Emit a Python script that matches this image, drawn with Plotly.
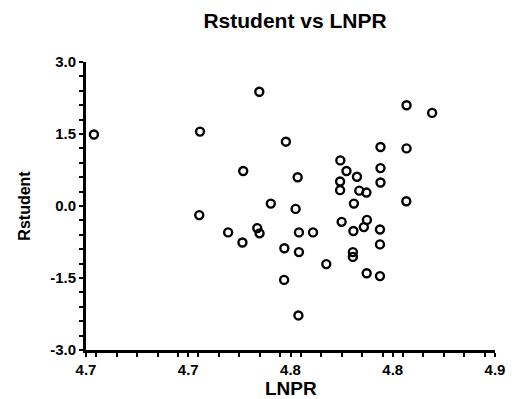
import plotly.graph_objects as go

lnpr = [4.7031, 4.7446, 4.7678, 4.7782, 4.7615, 4.7828, 4.7995, 4.8019, 4.8060, 4.7994,
        4.7994, 4.8069, 4.8097, 4.7723, 4.7820, 4.8048, 4.8254, 4.8354, 4.8152, 4.8254,
        4.8152, 4.8152, 4.8253, 4.7443, 4.7556, 4.7612, 4.7670, 4.7679, 4.7833, 4.7888,
        4.8000, 4.8046, 4.8087, 4.8099, 4.8150, 4.7776, 4.7833, 4.8044, 4.8044, 4.7940,
        4.8150, 4.8098, 4.8150, 4.7775, 4.7831]
rstudent = [1.49, 1.55, 2.38, 1.34, 0.73, 0.60, 0.95, 0.73, 0.61, 0.51,
            0.33, 0.32, 0.28, 0.05, -0.06, 0.05, 2.10, 1.94, 1.23, 1.20,
            0.79, 0.49, 0.10, -0.19, -0.55, -0.76, -0.46, -0.57, -0.55, -0.55,
            -0.33, -0.52, -0.44, -0.29, -0.49, -0.88, -0.96, -0.96, -1.06, -1.21,
            -0.80, -1.40, -1.46, -1.54, -2.28]

x_tickvals = [4.70, 4.74, 4.78, 4.82, 4.86]
x_ticktext = ["4.7", "4.7", "4.8", "4.8", "4.9"]
y_tickvals = [-3.0, -1.5, 0.0, 1.5, 3.0]
y_ticktext = ["-3.0", "-1.5", "0.0", "1.5", "3.0"]

FONT = "Liberation Sans"

fig = go.Figure()
fig.add_trace(go.Scatter(
    x=lnpr, y=rstudent, mode="markers", cliponaxis=False,
    marker=dict(symbol="circle-open", size=8, color="black", line=dict(width=2.4, color="black")),
    showlegend=False,
))

fig.update_xaxes(
    range=[4.70, 4.86], tickvals=x_tickvals, ticktext=["<b>%s</b>" % t for t in x_ticktext],
    showgrid=False, zeroline=False, showline=True, linecolor="black", linewidth=3,
    ticks="outside", ticklen=4, tickwidth=2, tickcolor="black",
    tickfont=dict(family=FONT, size=15, color="black"),
    minor=dict(ticks="outside", ticklen=4, tickwidth=2, tickcolor="black", dtick=0.008),
    automargin=False,
)
fig.update_yaxes(
    range=[-3.0, 3.0], tickvals=y_tickvals, ticktext=["<b>%s</b>" % t for t in y_ticktext],
    showgrid=False, zeroline=False, showline=True, linecolor="black", linewidth=3,
    ticks="outside", ticklen=4, tickwidth=2, tickcolor="black",
    tickfont=dict(family=FONT, size=15, color="black"),
    minor=dict(ticks="outside", ticklen=4, tickwidth=2, tickcolor="black", dtick=0.3),
    title=dict(text="<b>Rstudent</b>", font=dict(family=FONT, size=16, color="black"), standoff=16),
    automargin=False,
)

fig.add_annotation(
    text="<b>LNPR</b>", xref="paper", yref="paper", x=0.5, y=(350 - 388) / 288,
    xanchor="center", yanchor="middle", showarrow=False,
    font=dict(family=FONT, size=19, color="black"),
)

fig.update_layout(
    width=512, height=399,
    margin=dict(l=86, r=17, t=62, b=49),
    paper_bgcolor="white", plot_bgcolor="white",
    title=dict(text="<b>Rstudent vs LNPR</b>", x=295/512, xanchor="center", y=1-21/399, yanchor="middle",
               font=dict(family=FONT, size=21, color="black")),
)

fig.write_html("out.html")
